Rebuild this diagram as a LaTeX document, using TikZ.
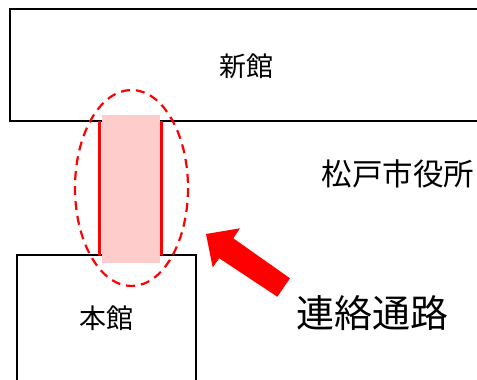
\documentclass[tikz,border=0pt]{standalone}
\usepackage{fontspec}
\newfontfamily\jpfont{Noto Sans CJK JP}
\begin{document}
\begin{tikzpicture}[x=1pt,y=-1pt, line join=miter, font=\jpfont,
	bldg/.style={draw=black, line width=1.8pt},
	link/.style={draw=red, line width=2.2pt},
	lbl/.style={inner sep=0pt}]
	\definecolor{hlpink}{RGB}{255,204,204}
	\useasboundingbox (0,0) rectangle (477,380);
	\clip (0,0) rectangle (477,380);
	%Tòa nhà
	\draw[bldg] (10,8.7) rectangle (495,121);
	\draw[bldg] (17,254.7) rectangle (196,400);
	%Lối nối
	\fill[hlpink] (101.7,115) rectangle (160,262.7);
	\draw[link] (99.5,121) -- (99.5,254.7);
	\draw[link] (161.5,121) -- (161.5,254.7);
	\draw[red, line width=2.2pt, dash pattern=on 9pt off 6pt] (131.5,188) ellipse [x radius=56.5, y radius=98];
	%Mũi tên
	\fill[red] (206,234)--(240,228.3)--(233.3,238.3)--(290,278.3)--(277.3,296.7)--(219.3,258.3)--(212.7,267.3)--cycle;
	\node[lbl, font=\jpfont\fontsize{27}{29}\selectfont] (shinkan) at (246,66) {新館};
	\node[lbl, font=\jpfont\fontsize{27}{29}\selectfont] (honkan) at (106.3,318) {本館};
	\node[lbl, font=\jpfont\fontsize{30.5}{32}\selectfont] (shiyakusho) at (398,174) {松戸市役所};
	\node[lbl, font=\jpfont\fontsize{38}{40}\selectfont] (renraku) at (372,313) {連絡通路};
\end{tikzpicture}
\end{document}
